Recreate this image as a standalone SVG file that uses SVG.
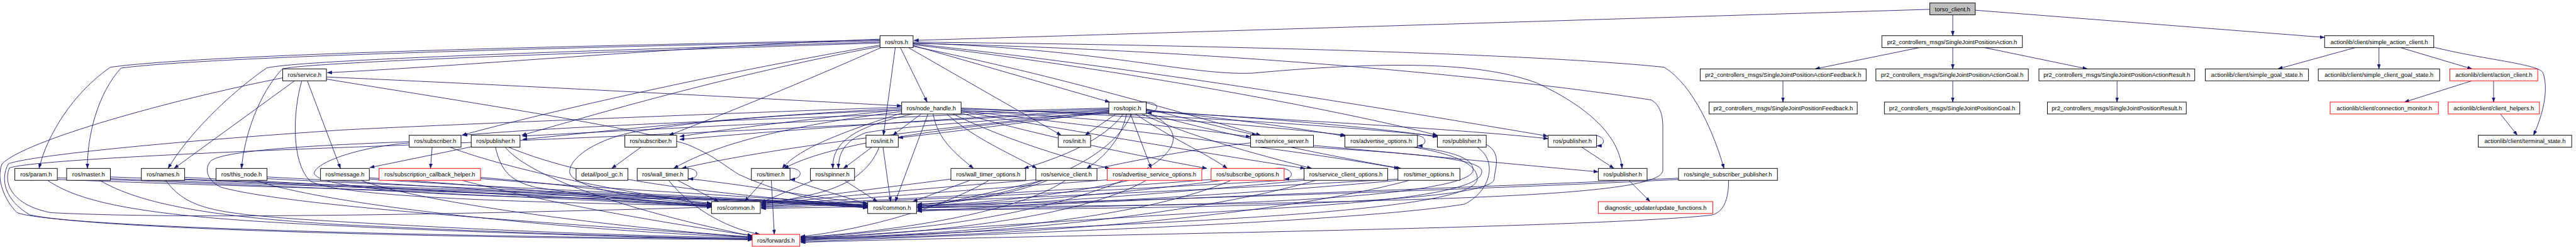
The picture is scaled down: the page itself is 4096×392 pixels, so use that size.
<svg xmlns="http://www.w3.org/2000/svg" width="4096" height="392" viewBox="0 0 4096 392">
<style>
.node rect{fill:#fff;stroke:#000;stroke-width:1.4}
.node.red rect{stroke:#ff0000}
.node.root rect{fill:#bfbfbf}
.node text{font-family:"Liberation Sans",Arial,sans-serif;font-size:14px;text-anchor:middle;fill:#000}
#edges path{fill:none;stroke:#191970;stroke-width:1.3;marker-end:url(#a)}
</style>
<defs>
<marker id="a" viewBox="0 0 11 8" refX="11" refY="4" markerWidth="11" markerHeight="8" markerUnits="userSpaceOnUse" orient="auto"><path d="M0,0 L11,4 L0,8 z" fill="#191970" stroke="#191970" stroke-width="0.5"/></marker>
</defs>
<rect width="4096" height="392" fill="#fff"/>
<g transform="scale(0.675)">
<g id="edges">
<path d="M4546,22 L2153,95"/>
<path d="M4600,35 L4600,84"/>
<path d="M4653,24 L5476,88"/>
<path d="M4521,112 L4276,162"/>
<path d="M4600,112 L4600,162"/>
<path d="M4675,112 L4917,162"/>
<path d="M4200,190 L4200,240"/>
<path d="M4600,190 L4600,240"/>
<path d="M4987,190 L4987,240"/>
<path d="M5548,112 L5366,162"/>
<path d="M5604,112 L5604,162"/>
<path d="M5655,112 L5823,162"/>
<path d="M5733,111 C5850,140 5975,150 5990,170 C6005,210 5990,270 5968,318"/>
<path d="M5823,190 L5664,240"/>
<path d="M5874,190 L5874,240"/>
<path d="M5890,268 L5930,318"/>
<path d="M2073,92 C1600,110 1100,155 771,171"/>
<path d="M2073,94 C1500,105 500,125 260,158 C170,220 110,320 92,396"/>
<path d="M2073,96 C1500,108 520,130 285,160 C230,220 205,320 206,396"/>
<path d="M2073,99 C1500,115 700,140 628,160 C540,220 440,320 396,396"/>
<path d="M2073,101 C1500,120 730,145 665,162 C610,220 575,320 569,396"/>
<path d="M2121,112 L2184,240"/>
<path d="M2109,112 L2081,318"/>
<path d="M2073,106 C1700,170 1300,260 1088,318"/>
<path d="M2073,109 C1700,180 1400,270 1229,318"/>
<path d="M2075,112 C1900,190 1700,270 1576,318"/>
<path d="M2151,107 L2614,240"/>
<path d="M2140,112 L2500,318"/>
<path d="M2151,109 C2500,180 2800,270 2970,318"/>
<path d="M2151,105 C2700,170 3200,270 3386,318"/>
<path d="M2151,103 C2700,160 3350,270 3646,320"/>
<path d="M2151,101 C2600,115 2800,178 2950,172 C3300,140 3500,150 3620,195 C3760,260 3815,330 3821,396"/>
<path d="M2151,99 C2800,105 3600,125 3920,158 C3990,200 4040,320 4061,396"/>
<path d="M2151,102 C2800,115 3500,175 3890,235 C3915,250 3917,280 3917,300 L3917,400 C3917,440 3700,458 3300,470 C2800,485 2300,486 2159,487"/>
<path d="M694,190 L410,396"/>
<path d="M724,190 L802,396"/>
<path d="M769,181 C1200,200 1800,232 2124,249"/>
<path d="M711,190 C690,260 685,380 730,425 C800,470 1400,478 1676,484"/>
<path d="M666,183 C400,235 60,330 5,385 C-10,420 10,470 40,500 C150,540 1300,560 1772,561"/>
<path d="M769,186 C1100,240 1500,300 1620,340 C1680,365 1700,385 1740,410 C1850,460 1950,478 2044,482"/>
<path d="M2170,268 L2103,318"/>
<path d="M2150,268 C2000,300 1960,340 1962,396"/>
<path d="M2124,266 C1950,320 1870,360 1843,396"/>
<path d="M2186,268 L2109,474"/>
<path d="M2198,268 C2210,330 2250,360 2293,396"/>
<path d="M2124,262 C1900,290 1700,330 1587,396"/>
<path d="M2124,258 C1900,280 1700,305 1601,321"/>
<path d="M2124,255 C1800,270 1500,300 1231,328"/>
<path d="M2230,268 C2300,330 2400,370 2442,396"/>
<path d="M2245,268 C2350,320 2500,370 2614,396"/>
<path d="M2264,266 C2450,320 2700,370 2843,396"/>
<path d="M2264,262 C2600,320 2900,370 3074,396"/>
<path d="M2264,260 C2700,310 3100,360 3295,396"/>
<path d="M2264,258 C2600,280 2800,300 2946,322"/>
<path d="M2264,256 C2800,270 3200,300 3386,320"/>
<path d="M2264,254 C2700,272 3000,298 3170,318"/>
<path d="M2124,259 C1800,270 1600,290 1480,313 C1380,338 1340,380 1342,405 C1345,440 1500,470 1676,479"/>
<path d="M2124,252 C1600,270 900,300 800,306 C300,340 60,370 20,385 C0,420 10,470 70,505 C250,545 1300,562 1772,563"/>
<path d="M2629,268 L2556,318"/>
<path d="M2612,262 C2400,290 2200,315 2116,324"/>
<path d="M2646,268 C2600,330 2500,370 2412,396"/>
<path d="M2654,268 C2640,330 2600,370 2560,396"/>
<path d="M2663,268 L2712,396"/>
<path d="M2675,268 C2750,320 2840,360 2891,396"/>
<path d="M2690,268 C2800,320 2950,360 3090,396"/>
<path d="M2700,266 C2900,320 3150,370 3300,396"/>
<path d="M2700,256 C2800,280 2880,300 2960,318"/>
<path d="M2700,258 C2900,280 3050,300 3168,320"/>
<path d="M2700,260 C3000,280 3250,300 3386,322"/>
<path d="M2700,262 C3100,285 3450,305 3647,326"/>
<path d="M2612,264 C2300,285 2100,300 2040,312 C1990,330 1975,360 1975,396"/>
<path d="M2612,266 C2200,300 1950,340 1847,396"/>
<path d="M2612,262 C2200,300 1800,350 1606,396"/>
<path d="M2612,258 C2200,280 1800,310 1601,328"/>
<path d="M2612,256 C2200,270 1600,300 1231,320"/>
<path d="M2612,254 C2200,265 1400,290 1090,318"/>
<path d="M2686,240 C2735,236 2735,262 2702,266"/>
<path d="M2612,260 C2000,300 1000,340 800,347 C400,362 60,380 22,395 C5,440 40,485 120,500 C500,520 1400,495 1676,487"/>
<path d="M2665,268 C2620,380 2400,470 2161,480"/>
<path d="M2700,264 C2900,350 2600,480 2200,530 C2000,552 1950,556 1886,557"/>
<path d="M2054,346 L1987,396"/>
<path d="M2080,346 L2098,474"/>
<path d="M2071,346 C2050,400 2000,440 1900,460 C1850,470 1820,478 1793,481"/>
<path d="M1916,424 L1793,476"/>
<path d="M1989,424 L2067,474"/>
<path d="M1799,424 L1754,474"/>
<path d="M1817,424 L1824,551"/>
<path d="M1861,423 L2044,480"/>
<path d="M1845,396 C1895,390 1895,420 1862,422"/>
<path d="M1596,424 L1693,474"/>
<path d="M1575,424 C1620,480 1700,535 1790,551"/>
<path d="M1621,420 C1800,440 1950,470 2044,478"/>
<path d="M1609,396 C1650,392 1650,420 1622,421"/>
<path d="M1018,346 L1014,396"/>
<path d="M1060,346 C1200,400 1500,460 1676,478"/>
<path d="M964,336 C850,345 745,380 740,407 C745,440 1000,462 1400,466 C1700,468 1900,470 2044,484"/>
<path d="M964,333 C800,340 520,350 495,380 C480,400 490,425 520,440 C700,490 1400,530 1772,558"/>
<path d="M1111,345 L871,394"/>
<path d="M1167,346 C1180,400 1200,425 1260,440 C1450,470 1600,478 1676,481"/>
<path d="M1198,346 C1400,430 1700,455 2044,486"/>
<path d="M1190,346 C1250,420 1500,500 1772,555"/>
<path d="M1510,346 L1441,396"/>
<path d="M1132,417 C1400,440 1600,470 1676,482"/>
<path d="M1088,424 C1300,480 1600,530 1772,554"/>
<path d="M1132,420 C1500,450 1800,462 2044,484"/>
<path d="M870,418 C1200,440 1500,470 1676,483"/>
<path d="M850,424 C1000,480 1500,540 1772,557"/>
<path d="M870,421 C1300,450 1700,460 2044,485"/>
<path d="M629,416 C1000,435 1500,470 1676,484"/>
<path d="M629,420 C1100,445 1700,462 2044,486"/>
<path d="M600,424 C800,490 1400,545 1772,558"/>
<path d="M435,417 C900,440 1500,472 1676,485"/>
<path d="M435,421 C1000,445 1700,462 2044,487"/>
<path d="M390,424 C440,490 500,500 700,515 C1100,540 1500,556 1772,559"/>
<path d="M260,416 C800,435 1500,472 1676,486"/>
<path d="M260,420 C900,445 1700,463 2044,488"/>
<path d="M235,424 C330,480 500,510 800,528 C1200,548 1550,558 1772,562"/>
<path d="M135,418 C700,438 1500,474 1676,487"/>
<path d="M135,422 C800,448 1700,464 2044,489"/>
<path d="M112,424 C180,470 300,500 600,520 C1000,545 1500,557 1772,564"/>
<path d="M2285,424 L2150,474"/>
<path d="M2240,421 L1793,478"/>
<path d="M2330,424 C2200,500 2000,545 1886,556"/>
<path d="M2468,424 C2400,450 2300,475 2161,481"/>
<path d="M2440,423 C2200,440 1900,470 1793,480"/>
<path d="M2510,424 C2400,500 2100,545 1886,558"/>
<path d="M2660,424 C2500,460 2300,480 2161,483"/>
<path d="M2608,423 C2300,445 2000,470 1793,482"/>
<path d="M2700,424 C2550,510 2200,550 1886,559"/>
<path d="M2880,424 C2600,460 2300,482 2161,485"/>
<path d="M2900,424 C2700,510 2300,552 1886,560"/>
<path d="M2853,422 C2500,450 2000,474 1793,484"/>
<path d="M3005,396 C3050,392 3050,420 3026,421"/>
<path d="M3072,424 C2700,460 2350,484 2161,487"/>
<path d="M3100,424 C2800,510 2300,555 1886,562"/>
<path d="M3072,421 C2600,450 2000,476 1793,486"/>
<path d="M3293,424 C2900,460 2400,486 2161,489"/>
<path d="M3320,424 C3000,510 2400,556 1886,563"/>
<path d="M3293,421 C2800,450 2100,478 1793,488"/>
<path d="M2946,336 C2700,360 2400,440 2161,491"/>
<path d="M3094,346 C3300,360 3480,370 3490,400 C3500,440 3350,470 3000,490 C2500,520 2000,552 1886,564"/>
<path d="M3094,342 C3300,360 3550,385 3765,404"/>
<path d="M3320,318 C3365,314 3365,342 3340,343"/>
<path d="M3339,346 C3450,360 3470,380 3470,400 C3470,440 3200,470 2800,480 C2500,488 2300,492 2161,493"/>
<path d="M3330,346 C3440,365 3480,390 3480,420 C3480,470 3200,500 2700,525 C2300,545 2000,558 1886,566"/>
<path d="M3501,340 C3540,360 3520,400 3520,420 C3520,460 3200,480 2700,488 C2400,492 2250,494 2161,495"/>
<path d="M3480,346 C3530,380 3510,450 3450,480 C3200,520 2500,545 1886,568"/>
<path d="M3726,346 L3802,396"/>
<path d="M3740,318 C3785,314 3785,342 3762,343"/>
<path d="M3837,424 L3887,474"/>
<path d="M3954,419 C3500,440 2600,470 2161,497"/>
<path d="M4072,424 C4072,470 4060,500 4030,506 C3700,540 2300,555 1886,570"/>
<path d="M3954,422 C3500,445 2500,480 1793,490"/>
</g>
<g id="n_torso" class="node root"><rect x="4546" y="7" width="107" height="28"/><text x="4599.5" y="26">torso_client.h</text></g>
<g id="n_ros" class="node"><rect x="2073" y="84" width="78" height="28"/><text x="2112" y="103">ros/ros.h</text></g>
<g id="n_sjpa" class="node"><rect x="4433" y="84" width="331" height="28"/><text x="4598.5" y="103">pr2_controllers_msgs/SingleJointPositionAction.h</text></g>
<g id="n_sac" class="node"><rect x="5476" y="84" width="257" height="28"/><text x="5604.5" y="103">actionlib/client/simple_action_client.h</text></g>
<g id="n_service" class="node"><rect x="666" y="162" width="103" height="28"/><text x="717.5" y="181">ros/service.h</text></g>
<g id="n_sjpaf" class="node"><rect x="4005" y="162" width="391" height="28"/><text x="4200.5" y="181">pr2_controllers_msgs/SingleJointPositionActionFeedback.h</text></g>
<g id="n_sjpag" class="node"><rect x="4419" y="162" width="359" height="28"/><text x="4598.5" y="181">pr2_controllers_msgs/SingleJointPositionActionGoal.h</text></g>
<g id="n_sjpar" class="node"><rect x="4803" y="162" width="367" height="28"/><text x="4986.5" y="181">pr2_controllers_msgs/SingleJointPositionActionResult.h</text></g>
<g id="n_sgs" class="node"><rect x="5195" y="162" width="243" height="28"/><text x="5316.5" y="181">actionlib/client/simple_goal_state.h</text></g>
<g id="n_scgs" class="node"><rect x="5461" y="162" width="286" height="28"/><text x="5604" y="181">actionlib/client/simple_client_goal_state.h</text></g>
<g id="n_ac" class="node red"><rect x="5771" y="162" width="207" height="28"/><text x="5874.5" y="181">actionlib/client/action_client.h</text></g>
<g id="n_nh" class="node"><rect x="2124" y="240" width="140" height="28"/><text x="2194" y="259">ros/node_handle.h</text></g>
<g id="n_topic" class="node"><rect x="2612" y="240" width="88" height="28"/><text x="2656" y="259">ros/topic.h</text></g>
<g id="n_sjpf" class="node"><rect x="4026" y="240" width="349" height="28"/><text x="4200.5" y="259">pr2_controllers_msgs/SingleJointPositionFeedback.h</text></g>
<g id="n_sjpg" class="node"><rect x="4439" y="240" width="319" height="28"/><text x="4598.5" y="259">pr2_controllers_msgs/SingleJointPositionGoal.h</text></g>
<g id="n_sjpr" class="node"><rect x="4823" y="240" width="327" height="28"/><text x="4986.5" y="259">pr2_controllers_msgs/SingleJointPositionResult.h</text></g>
<g id="n_cm" class="node red"><rect x="5489" y="240" width="255" height="28"/><text x="5616.5" y="259">actionlib/client/connection_monitor.h</text></g>
<g id="n_ch" class="node red"><rect x="5767" y="240" width="215" height="28"/><text x="5874.5" y="259">actionlib/client/client_helpers.h</text></g>
<g id="n_sub1" class="node"><rect x="964" y="318" width="122" height="28"/><text x="1025" y="337">ros/subscriber.h</text></g>
<g id="n_pub1" class="node"><rect x="1110" y="318" width="115" height="28"/><text x="1167.5" y="337">ros/publisher.h</text></g>
<g id="n_sub2" class="node"><rect x="1472" y="318" width="122" height="28"/><text x="1533" y="337">ros/subscriber.h</text></g>
<g id="n_init1" class="node"><rect x="2040" y="318" width="76" height="28"/><text x="2078" y="337">ros/init.h</text></g>
<g id="n_init2" class="node"><rect x="2493" y="318" width="76" height="28"/><text x="2531" y="337">ros/init.h</text></g>
<g id="n_ss" class="node"><rect x="2946" y="318" width="148" height="28"/><text x="3020" y="337">ros/service_server.h</text></g>
<g id="n_ao" class="node"><rect x="3168" y="318" width="171" height="28"/><text x="3253.5" y="337">ros/advertise_options.h</text></g>
<g id="n_pub2" class="node"><rect x="3386" y="318" width="115" height="28"/><text x="3443.5" y="337">ros/publisher.h</text></g>
<g id="n_pub3" class="node"><rect x="3647" y="318" width="114" height="28"/><text x="3704" y="337">ros/publisher.h</text></g>
<g id="n_ts" class="node"><rect x="5838" y="318" width="220" height="28"/><text x="5948" y="337">actionlib/client/terminal_state.h</text></g>
<g id="n_param" class="node"><rect x="35" y="396" width="100" height="28"/><text x="85" y="415">ros/param.h</text></g>
<g id="n_master" class="node"><rect x="157" y="396" width="103" height="28"/><text x="208.5" y="415">ros/master.h</text></g>
<g id="n_names" class="node"><rect x="333" y="396" width="102" height="28"/><text x="384" y="415">ros/names.h</text></g>
<g id="n_thisnode" class="node"><rect x="509" y="396" width="120" height="28"/><text x="569" y="415">ros/this_node.h</text></g>
<g id="n_msg" class="node"><rect x="755" y="396" width="115" height="28"/><text x="812.5" y="415">ros/message.h</text></g>
<g id="n_sch" class="node red"><rect x="893" y="396" width="239" height="28"/><text x="1012.5" y="415">ros/subscription_callback_helper.h</text></g>
<g id="n_poolgc" class="node"><rect x="1357" y="396" width="122" height="28"/><text x="1418" y="415">detail/pool_gc.h</text></g>
<g id="n_wt" class="node"><rect x="1501" y="396" width="120" height="28"/><text x="1561" y="415">ros/wall_timer.h</text></g>
<g id="n_timer" class="node"><rect x="1770" y="396" width="91" height="28"/><text x="1815.5" y="415">ros/timer.h</text></g>
<g id="n_spinner" class="node"><rect x="1909" y="396" width="104" height="28"/><text x="1961" y="415">ros/spinner.h</text></g>
<g id="n_wto" class="node"><rect x="2240" y="396" width="176" height="28"/><text x="2328" y="415">ros/wall_timer_options.h</text></g>
<g id="n_sc" class="node"><rect x="2440" y="396" width="144" height="28"/><text x="2512" y="415">ros/service_client.h</text></g>
<g id="n_aso" class="node red"><rect x="2608" y="396" width="223" height="28"/><text x="2719.5" y="415">ros/advertise_service_options.h</text></g>
<g id="n_so" class="node red"><rect x="2853" y="396" width="172" height="28"/><text x="2939" y="415">ros/subscribe_options.h</text></g>
<g id="n_sco" class="node"><rect x="3072" y="396" width="197" height="28"/><text x="3170.5" y="415">ros/service_client_options.h</text></g>
<g id="n_to" class="node"><rect x="3293" y="396" width="146" height="28"/><text x="3366" y="415">ros/timer_options.h</text></g>
<g id="n_pub4" class="node"><rect x="3765" y="396" width="115" height="28"/><text x="3822.5" y="415">ros/publisher.h</text></g>
<g id="n_ssp" class="node"><rect x="3954" y="396" width="233" height="28"/><text x="4070.5" y="415">ros/single_subscriber_publisher.h</text></g>
<g id="n_common1" class="node"><rect x="1676" y="474" width="115" height="28"/><text x="1733.5" y="493">ros/common.h</text></g>
<g id="n_common2" class="node"><rect x="2044" y="474" width="115" height="28"/><text x="2101.5" y="493">ros/common.h</text></g>
<g id="n_uf" class="node red"><rect x="3765" y="474" width="270" height="28"/><text x="3900" y="493">diagnostic_updater/update_functions.h</text></g>
<g id="n_fwd" class="node red"><rect x="1772" y="551" width="112" height="28"/><text x="1828" y="570">ros/forwards.h</text></g>
</g>
</svg>
